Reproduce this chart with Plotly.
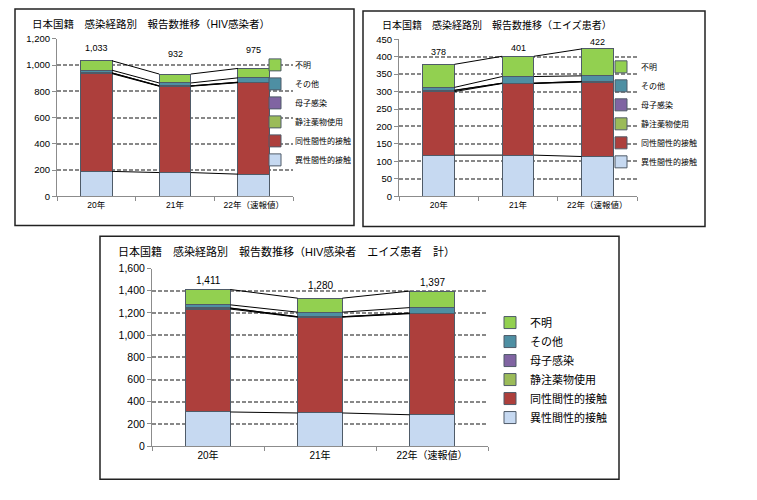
import numpy as np
import plotly.graph_objects as go

W, H = 757, 500

years = ['20年', '21年', '22年（速報値）']
routes = ['異性間性的接触', '同性間性的接触', '静注薬物使用', '母子感染', 'その他', '不明']
colors = ['#c6d9f1', '#ad3f3c', '#9bbb59', '#8064a2', '#4e8fa3', '#92d050']

# HIV感染者
hiv_hetero = [190, 181, 169]
hiv_homo = [745, 658, 697]
hiv_idu = [5, 3, 3]
hiv_mtct = [1, 0, 1]
hiv_other = [20, 22, 33]
hiv_unknown = [72, 68, 72]
hiv_labels = ['1,033', '932', '975']

# エイズ患者
aids_hetero = [118, 118, 114]
aids_homo = [182, 205, 213]
aids_idu = [3, 1, 2]
aids_mtct = [1, 0, 0]
aids_other = [8, 19, 16]
aids_unknown = [66, 58, 77]
aids_labels = ['378', '401', '422']

# 計 (label text as printed on the original)
total_labels = ['1,411', '1,280', '1,397']

hiv = [hiv_hetero, hiv_homo, hiv_idu, hiv_mtct, hiv_other, hiv_unknown]
aids = [aids_hetero, aids_homo, aids_idu, aids_mtct, aids_other, aids_unknown]
total = [list(np.add(a, b)) for a, b in zip(hiv, aids)]


def px(x):
    return x / W


def py(y):
    return 1 - y / H


FONT = 'Liberation Sans, Noto Sans CJK JP, sans-serif'
BAR_W = 0.4

charts = [
    dict(data=hiv, labels=hiv_labels, ax='', legend='legend',
         title='日本国籍　感染経路別　報告数推移（HIV感染者）',
         yrange=[0, 1200], dtick=200,
         xdom=[px(57), px(293)], ydom=[py(195), py(33.7)],
         title_pos=(30, 18), legend_pos=(255, 109),
         box=(15, 3, 354, 225), shifts=[13, 20, 18],
         fs=dict(title=10.5, tick=9.5, xlab=8.5, lab=9, leg=8)),
    dict(data=aids, labels=aids_labels, ax='2', legend='legend2',
         title='日本国籍　感染経路別　報告数推移（エイズ患者）',
         yrange=[0, 450], dtick=50,
         xdom=[px(399), px(637)], ydom=[py(195), py(34)],
         title_pos=(380, 19), legend_pos=(601, 111),
         box=(363, 5, 705, 226), shifts=[12, 8, 7],
         fs=dict(title=10, tick=9.5, xlab=8.5, lab=9, leg=8)),
    dict(data=total, labels=total_labels, ax='3', legend='legend3',
         title='日本国籍　感染経路別　報告数推移（HIV感染者　エイズ患者　計）',
         yrange=[0, 1600], dtick=200,
         xdom=[px(152), px(488)], ydom=[py(451), py(269)],
         title_pos=(116, 252), legend_pos=(490, 373),
         box=(100, 236, 619, 485), shifts=[9, 13, 9],
         fs=dict(title=11, tick=10.5, xlab=10, lab=10, leg=11)),
]

fig = go.Figure()
shapes = []
annotations = []
layout = {}

for c in charts:
    xa, ya = 'x' + c['ax'], 'y' + c['ax']
    for k, route in enumerate(routes):
        fig.add_trace(go.Bar(
            x=years, y=c['data'][k], name=route,
            marker=dict(color=colors[k], line=dict(color='#4f5b68', width=1)),
            width=BAR_W, xaxis=xa, yaxis=ya, legend=c['legend'],
            hoverinfo='skip'))

    # series lines between neighbouring bars
    cum = np.cumsum(np.array(c['data']), axis=0)
    for k in range(len(routes)):
        for i in range(len(years) - 1):
            shapes.append(dict(
                type='line', xref=xa, yref=ya,
                x0=i + BAR_W / 2, x1=i + 1 - BAR_W / 2,
                y0=cum[k][i], y1=cum[k][i + 1],
                line=dict(color='black', width=1)))

    # total labels
    for i, year in enumerate(years):
        annotations.append(dict(
            x=i, y=cum[-1][i], xref=xa, yref=ya, text=c['labels'][i],
            showarrow=False, yanchor='middle', yshift=c['shifts'][i],
            font=dict(size=c['fs']['lab'], color='black')))

    # title
    tx, ty = c['title_pos']
    annotations.append(dict(
        x=px(tx), y=py(ty), xref='paper', yref='paper', text=c['title'],
        showarrow=False, xanchor='left', yanchor='middle',
        font=dict(size=c['fs']['title'], color='black')))

    # frame round each chart
    x0, y0, x1, y1 = c['box']
    shapes.append(dict(
        type='rect', xref='paper', yref='paper',
        x0=px(x0), x1=px(x1), y0=py(y1), y1=py(y0),
        line=dict(color='#222222', width=1.5)))

    layout['xaxis' + c['ax']] = dict(
        domain=c['xdom'], anchor=ya, type='category',
        showline=True, linecolor='#8c8c8c', linewidth=1,
        ticks='outside', tickson='boundaries', ticklen=4, tickcolor='#8c8c8c',
        showgrid=False, range=[-0.5, 2.5],
        tickfont=dict(size=c['fs']['xlab'], color='black'))
    layout['yaxis' + c['ax']] = dict(
        domain=c['ydom'], anchor=xa, range=c['yrange'], dtick=c['dtick'],
        tickformat=',d', showline=True, linecolor='#8c8c8c', linewidth=1,
        ticks='outside', ticklen=4, tickcolor='#8c8c8c',
        showgrid=True, gridcolor='#888888', gridwidth=1.5, griddash='4px,2px',
        zeroline=False, tickfont=dict(size=c['fs']['tick'], color='black'))

    lx, ly = c['legend_pos']
    layout[c['legend']] = dict(
        x=px(lx), xanchor='left', y=py(ly), yanchor='middle',
        traceorder='reversed', bgcolor='rgba(0,0,0,0)', itemwidth=30,
        font=dict(size=c['fs']['leg'], color='black'))

fig.update_layout(
    width=W, height=H,
    margin=dict(l=0, r=0, t=0, b=0),
    paper_bgcolor='white', plot_bgcolor='white',
    font=dict(family=FONT, color='black'),
    barmode='stack', bargap=0.6,
    showlegend=True,
    shapes=shapes, annotations=annotations,
    **layout)

# the page's default body margin would shift the 757x500 figure
fig.write_html('out.html', config={'displayModeBar': False},
               post_script="document.body.style.margin = '0';")
